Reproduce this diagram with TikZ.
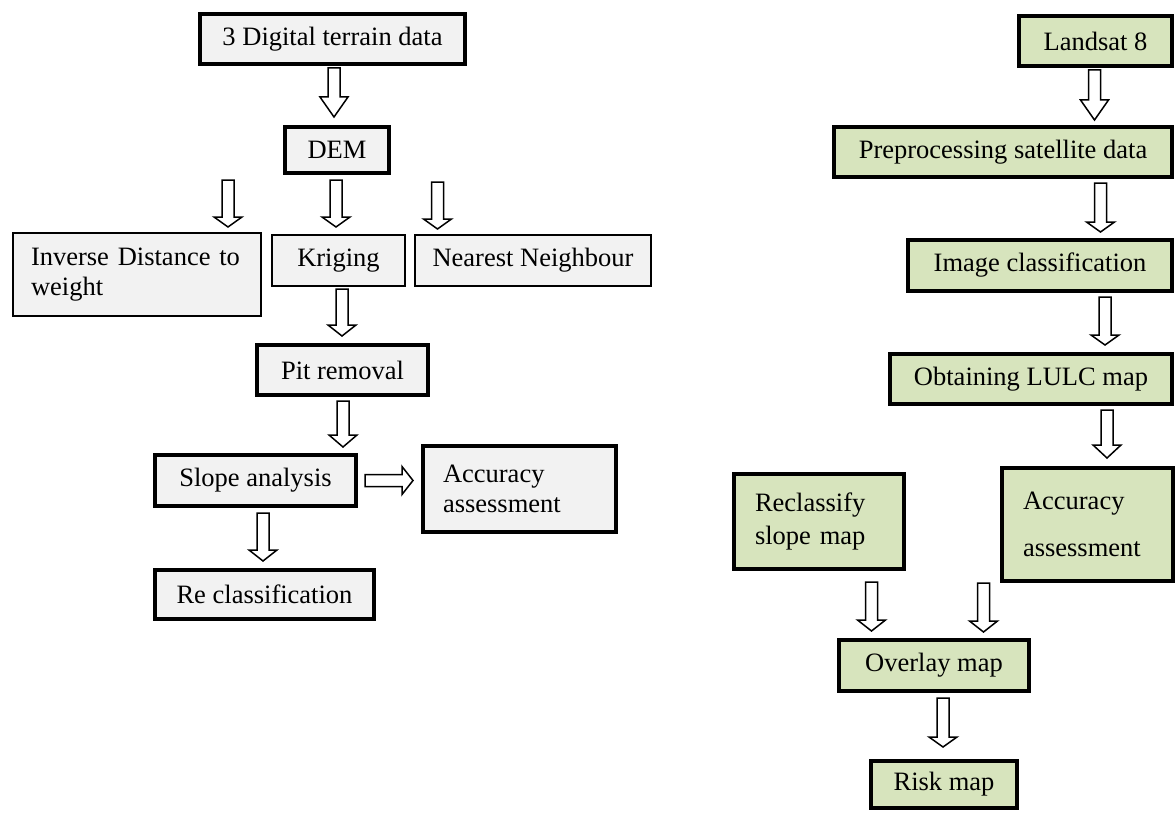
\documentclass[tikz,border=0pt]{standalone}
\usepackage{fontspec}
\setmainfont{Liberation Serif}
\usetikzlibrary{positioning}

\definecolor{boxgrey}{HTML}{F2F2F2}
\definecolor{boxgreen}{HTML}{D7E4BD}

\tikzset{
	pics/blockarrow/.style 2 args={code={
		\draw[line width=1.5pt, fill=white] (-6,0) -- (-6,#1-#2) -- (-14,#1-#2) -- (0,#1) -- (14,#1-#2) -- (6,#1-#2) -- (6,0) -- cycle;
	}}
}

\begin{document}
\begin{tikzpicture}[x=1pt, y=-1pt,
		stepbox/.style={draw, rectangle, line width=3.6pt, inner sep=0pt, font=\fontsize{26.5}{30}\selectfont},
		thinbox/.style={stepbox, line width=2.4pt},
		demstep/.style={fill=boxgrey},
		lulcstep/.style={fill=boxgreen}]
		\useasboundingbox (0,0) rectangle (1176,816);
		% DEM branch
		\node[stepbox, demstep, minimum width=265pt, minimum height=50pt] (terrain) at (332.5,39) {3 Digital terrain data};
		\node[stepbox, demstep, minimum width=104pt, minimum height=46pt] (dem) at (337,150) {DEM};
		\node[thinbox, demstep, minimum width=248pt, minimum height=83pt, text width=212pt, align=left] (idw) at (137,274.5) {Inverse Distance to\\weight};
		\node[thinbox, demstep, minimum width=133pt, minimum height=51pt] (kriging) at (338.5,260.5) {Kriging};
		\node[thinbox, demstep, minimum width=236pt, minimum height=51pt] (nearest) at (533,260.5) {Nearest Neighbour};
		\node[stepbox, demstep, minimum width=171pt, minimum height=50pt] (pit) at (342.5,370) {Pit removal};
		\node[stepbox, demstep, minimum width=201pt, minimum height=51pt] (slope) at (255.5,480.5) {Slope analysis};
		\node[stepbox, demstep, minimum width=193pt, minimum height=86pt, text width=153pt, align=left] (acc-dem) at (519.5,489) {Accuracy\\assessment};
		\node[stepbox, demstep, minimum width=219pt, minimum height=49pt] (reclass) at (264.5,594.5) {Re classification};
		% LULC branch
		\node[stepbox, lulcstep, minimum width=153pt, minimum height=50pt] (landsat) at (1095.5,41) {Landsat 8};
		\node[stepbox, lulcstep, minimum width=338pt, minimum height=50pt] (preproc) at (1003,152) {Preprocessing satellite data};
		\node[stepbox, lulcstep, minimum width=264pt, minimum height=51pt] (classif) at (1040,265.5) {Image classification};
		\node[stepbox, lulcstep, minimum width=282pt, minimum height=50pt] (lulc) at (1031,379) {Obtaining LULC map};
		\node[stepbox, lulcstep, minimum width=171pt, minimum height=113pt, text width=129pt, align=left] (acc-lulc) at (1087.5,524.5) {Accuracy\\[17pt]assessment};
		\node[stepbox, lulcstep, minimum width=170pt, minimum height=95pt, text width=128pt, align=left] (reclass-slope) at (819,521.5) {Reclassify\\[3pt]slope map};
		\node[stepbox, lulcstep, minimum width=190pt, minimum height=51pt] (overlay) at (934,665.5) {Overlay map};
		\node[stepbox, lulcstep, minimum width=146pt, minimum height=47pt] (risk) at (944,784.5) {Risk map};
		% hollow arrows
		\pic (terrain-dem) at (334,68) {blockarrow={49}{20}};
		\pic (dem-idw) at (228,180) {blockarrow={47}{10}};
		\pic (dem-kriging) at (336,180) {blockarrow={47}{10}};
		\pic (dem-nearest) at (437.5,182) {blockarrow={47}{10}};
		\pic (kriging-pit) at (342,289) {blockarrow={47}{11}};
		\pic (pit-slope) at (343,401) {blockarrow={46}{12}};
		\pic[rotate=90] (slope-acc) at (365,480.5) {blockarrow={48}{11}};
		\pic (slope-reclass) at (263,513) {blockarrow={48}{11}};
		\pic (landsat-preproc) at (1094.5,70) {blockarrow={50}{20}};
		\pic (preproc-classif) at (1100.5,183) {blockarrow={49}{10}};
		\pic (classif-lulc) at (1105,297) {blockarrow={48}{10}};
		\pic (lulc-acc) at (1107,410) {blockarrow={48}{13}};
		\pic (reclass-overlay) at (871.5,582) {blockarrow={49}{11}};
		\pic (acc-overlay) at (983.5,583) {blockarrow={49}{11}};
		\pic (overlay-risk) at (943,698) {blockarrow={49}{10}};
	\end{tikzpicture}
\end{document}
